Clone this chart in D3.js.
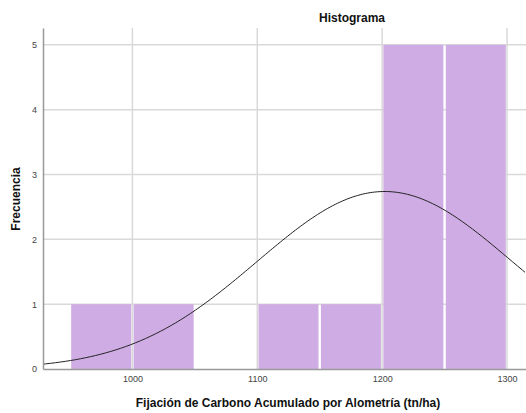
<!DOCTYPE html>
<html>
<head>
<meta charset="utf-8">
<title>Histograma</title>
<script src="https://d3js.org/d3.v7.min.js"></script>
<style>
  body { margin: 0; background: #fff; font-family: "Liberation Sans", Arial, sans-serif; }
  .tick text { fill: #444; font-size: 9px; }
</style>
</head>
<body>
<script>
// bins (tn/ha) and counts
var binStart = [950, 1000, 1050, 1100, 1150, 1200, 1250];
var binEnd   = [1000, 1050, 1100, 1150, 1200, 1250, 1300];
var counts   = [1, 1, 0, 1, 1, 5, 5];
var xTicks = [1000, 1100, 1200, 1300];
var yTicks = [0, 1, 2, 3, 4, 5];
// normal curve parameters
var mean = 1202, sd = 102, n = 14, binWidth = 50;

var W = 526, H = 413;
var plotL = 43, plotR = 526, plotT = 28, plotB = 369;

var svg = d3.select("body").append("svg")
    .attr("width", W).attr("height", H);

var x = d3.scaleLinear().domain([928.4, 1315.2]).range([plotL, plotR]);
var y = d3.scaleLinear().domain([0, 5.26]).range([plotB, plotT]);

// grid
svg.append("g").selectAll("line").data(yTicks.slice(1)).join("line")
    .attr("x1", plotL).attr("x2", plotR)
    .attr("y1", d => y(d)).attr("y2", d => y(d))
    .attr("stroke", "#d9d9d9").attr("stroke-width", 1.5);
svg.append("g").selectAll("line").data(xTicks).join("line")
    .attr("x1", d => x(d)).attr("x2", d => x(d))
    .attr("y1", plotT).attr("y2", plotB)
    .attr("stroke", "#d9d9d9").attr("stroke-width", 1.5);

// bars
var bins = counts.map((c, i) => ({x0: binStart[i], x1: binEnd[i], c: c})).filter(d => d.c > 0);
svg.append("g").selectAll("rect").data(bins).join("rect")
    .attr("x", d => x(d.x0) + 1.2)
    .attr("width", d => x(d.x1) - x(d.x0) - 2.4)
    .attr("y", d => y(d.c))
    .attr("height", d => y(0) - y(d.c))
    .attr("fill", "#d0ace4");

// normal curve
var xs = d3.range(928.4, 1315.3, 2);
var line = d3.line()
    .x(d => x(d))
    .y(d => y(n * binWidth / (sd * Math.sqrt(2 * Math.PI)) * Math.exp(-Math.pow(d - mean, 2) / (2 * sd * sd))));
svg.append("path").datum(xs)
    .attr("d", line)
    .attr("fill", "none")
    .attr("stroke", "#222")
    .attr("stroke-width", 1);

// axes
var yAxis = svg.append("g")
    .attr("transform", "translate(" + plotL + ",0)")
    .call(d3.axisLeft(y).tickValues(yTicks).tickFormat(d3.format("d")).tickSize(0).tickPadding(6));
yAxis.select(".domain").attr("stroke", "#999").attr("stroke-width", 1.5);

var xAxis = svg.append("g")
    .attr("transform", "translate(0," + plotB + ")")
    .call(d3.axisBottom(x).tickValues(xTicks).tickFormat(d3.format("d")).tickSize(0).tickPadding(7));
xAxis.select(".domain").attr("stroke", "#999").attr("stroke-width", 1.5);

// titles
svg.append("text")
    .attr("x", 352).attr("y", 22)
    .attr("text-anchor", "middle")
    .attr("font-size", 12).attr("font-weight", "bold")
    .attr("fill", "#111")
    .text("Histograma");

svg.append("text")
    .attr("x", 288).attr("y", 407)
    .attr("text-anchor", "middle")
    .attr("font-size", 12).attr("font-weight", "bold")
    .attr("fill", "#111")
    .text("Fijación de Carbono Acumulado por Alometría (tn/ha)");

svg.append("text")
    .attr("transform", "translate(20,199) rotate(-90)")
    .attr("text-anchor", "middle")
    .attr("font-size", 12).attr("font-weight", "bold")
    .attr("fill", "#111")
    .text("Frecuencia");
</script>
</body>
</html>
